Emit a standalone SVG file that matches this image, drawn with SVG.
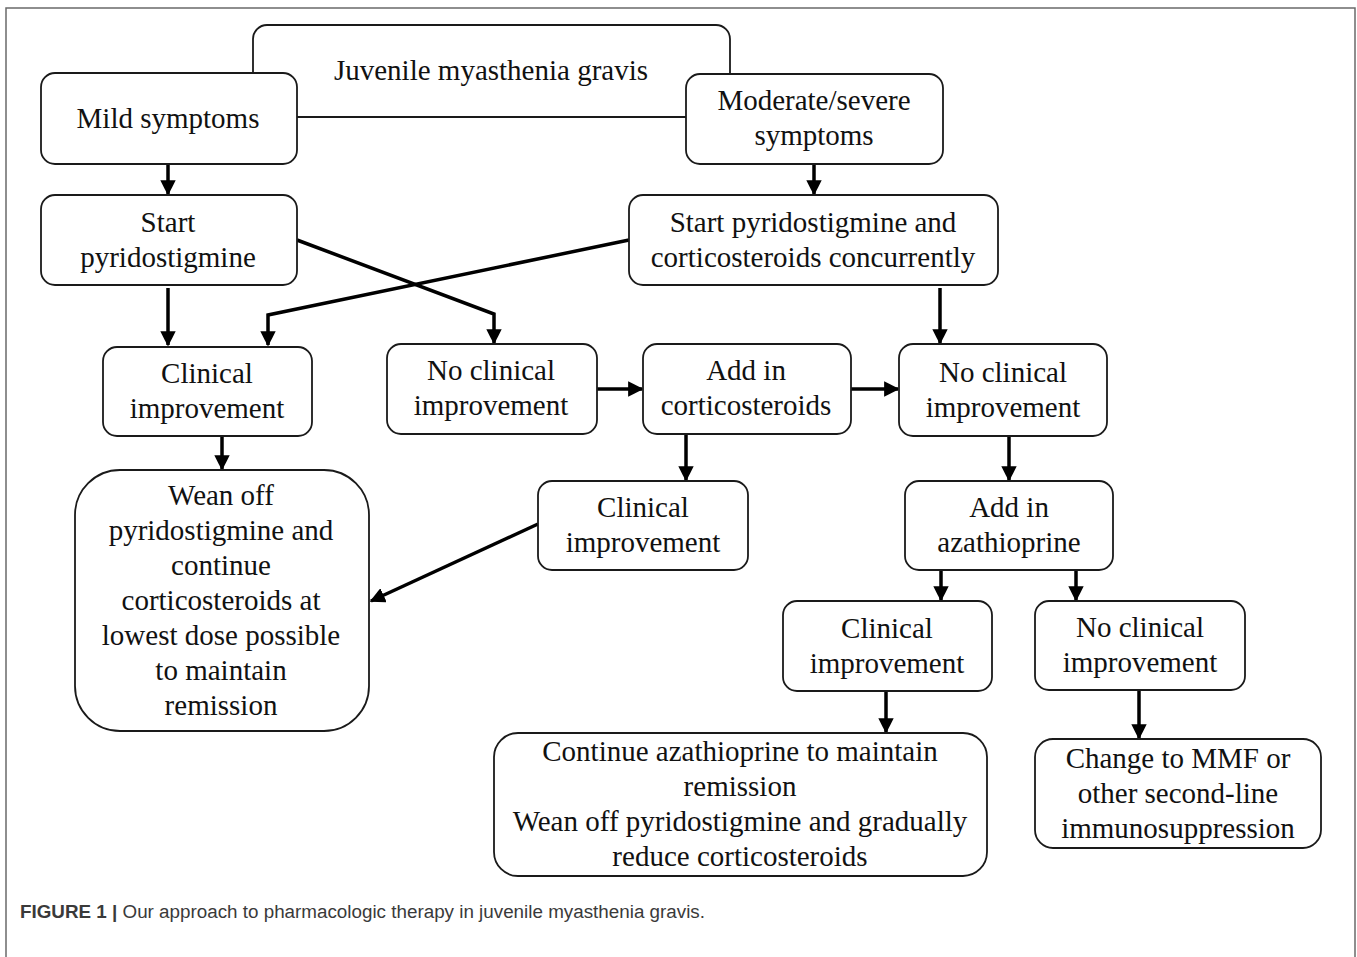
<svg xmlns="http://www.w3.org/2000/svg" width="1357" height="957" viewBox="0 0 1357 957">
<defs>
<style>
.box{fill:#fff;stroke:#1a1a1a;stroke-width:1.8}
.t{font-family:"Liberation Serif","Times New Roman",serif;font-size:29px;fill:#111;text-anchor:middle}
.c{fill:none;stroke:#000;stroke-width:3.5}
.cap{font-family:"Liberation Sans",Arial,sans-serif;font-size:18px;fill:#3a3a3a}
</style>
<marker id="ah" viewBox="0 0 10 10" refX="9" refY="5" markerWidth="4.4" markerHeight="4.4" markerUnits="strokeWidth" orient="auto">
<path d="M0,0 L10,5 L0,10 Z" fill="#000"/>
</marker>
</defs>
<rect x="0" y="0" width="1357" height="957" fill="#fff"/>
<path d="M6,960 L6,8 L1355,8 L1355,960" fill="none" stroke="#6a6a6a" stroke-width="1.5"/>

<g id="n-root"><rect class="box" x="253" y="25" width="477" height="92" rx="14"/><text class="t" x="491" y="80">Juvenile myasthenia gravis</text></g>

<g id="connectors">
<line class="c" x1="168" y1="164" x2="168" y2="194" marker-end="url(#ah)"/>
<line class="c" x1="814" y1="164" x2="814" y2="194" marker-end="url(#ah)"/>
<line class="c" x1="168" y1="288" x2="168" y2="345" marker-end="url(#ah)"/>
<polyline class="c" points="297,240 494,314 494,343" marker-end="url(#ah)"/>
<polyline class="c" points="629,240 268,315 268,345" marker-end="url(#ah)"/>
<line class="c" x1="940" y1="288" x2="940" y2="343" marker-end="url(#ah)"/>
<line class="c" x1="222" y1="437" x2="222" y2="469" marker-end="url(#ah)"/>
<line class="c" x1="597" y1="389" x2="642" y2="389" marker-end="url(#ah)"/>
<line class="c" x1="851" y1="389" x2="898" y2="389" marker-end="url(#ah)"/>
<line class="c" x1="686" y1="434" x2="686" y2="480" marker-end="url(#ah)"/>
<line class="c" x1="1009" y1="436" x2="1009" y2="480" marker-end="url(#ah)"/>
<line class="c" x1="538" y1="524" x2="371" y2="601" marker-end="url(#ah)"/>
<line class="c" x1="941" y1="570" x2="941" y2="600" marker-end="url(#ah)"/>
<line class="c" x1="1076" y1="570" x2="1076" y2="600" marker-end="url(#ah)"/>
<line class="c" x1="886" y1="691" x2="886" y2="732" marker-end="url(#ah)"/>
<line class="c" x1="1139" y1="690" x2="1139" y2="738" marker-end="url(#ah)"/>
</g>

<g id="n-mild"><rect class="box" x="41" y="73" width="256" height="91" rx="14"/><text class="t" x="168" y="128">Mild symptoms</text></g>
<g id="n-moderate"><rect class="box" x="686" y="74" width="257" height="90" rx="14"/><text class="t" x="814" y="110">Moderate/severe</text><text class="t" x="814" y="145">symptoms</text></g>
<g id="n-startpyr"><rect class="box" x="41" y="195" width="256" height="90" rx="14"/><text class="t" x="168" y="232">Start</text><text class="t" x="168" y="267">pyridostigmine</text></g>
<g id="n-startboth"><rect class="box" x="629" y="195" width="369" height="90" rx="14"/><text class="t" x="813" y="232">Start pyridostigmine and</text><text class="t" x="813" y="267">corticosteroids concurrently</text></g>
<g id="n-clin1"><rect class="box" x="103" y="347" width="209" height="89" rx="14"/><text class="t" x="207" y="383">Clinical</text><text class="t" x="207" y="418">improvement</text></g>
<g id="n-noclin1"><rect class="box" x="387" y="344" width="210" height="90" rx="14"/><text class="t" x="491" y="380">No clinical</text><text class="t" x="491" y="415">improvement</text></g>
<g id="n-addcort"><rect class="box" x="643" y="344" width="208" height="90" rx="14"/><text class="t" x="746" y="380">Add in</text><text class="t" x="746" y="415">corticosteroids</text></g>
<g id="n-noclin2"><rect class="box" x="899" y="344" width="208" height="92" rx="14"/><text class="t" x="1003" y="382">No clinical</text><text class="t" x="1003" y="417">improvement</text></g>
<g id="n-wean"><rect class="box" x="75" y="470" width="294" height="261" rx="45"/>
<text class="t" x="221" y="505">Wean off</text>
<text class="t" x="221" y="540">pyridostigmine and</text>
<text class="t" x="221" y="575">continue</text>
<text class="t" x="221" y="610">corticosteroids at</text>
<text class="t" x="221" y="645">lowest dose possible</text>
<text class="t" x="221" y="680">to maintain</text>
<text class="t" x="221" y="715">remission</text></g>
<g id="n-clin2"><rect class="box" x="538" y="481" width="210" height="89" rx="14"/><text class="t" x="643" y="517">Clinical</text><text class="t" x="643" y="552">improvement</text></g>
<g id="n-addaza"><rect class="box" x="905" y="481" width="208" height="89" rx="14"/><text class="t" x="1009" y="517">Add in</text><text class="t" x="1009" y="552">azathioprine</text></g>
<g id="n-clin3"><rect class="box" x="783" y="601" width="209" height="90" rx="14"/><text class="t" x="887" y="638">Clinical</text><text class="t" x="887" y="673">improvement</text></g>
<g id="n-noclin3"><rect class="box" x="1035" y="601" width="210" height="89" rx="14"/><text class="t" x="1140" y="637">No clinical</text><text class="t" x="1140" y="672">improvement</text></g>
<g id="n-continue"><rect class="box" x="494" y="733" width="493" height="143" rx="24"/>
<text class="t" x="740" y="761">Continue azathioprine to maintain</text>
<text class="t" x="740" y="796">remission</text>
<text class="t" x="740" y="831">Wean off pyridostigmine and gradually</text>
<text class="t" x="740" y="866">reduce corticosteroids</text></g>
<g id="n-change"><rect class="box" x="1035" y="739" width="286" height="109" rx="18"/>
<text class="t" x="1178" y="768">Change to MMF or</text>
<text class="t" x="1178" y="803">other second-line</text>
<text class="t" x="1178" y="838">immunosuppression</text></g>

<text class="cap" x="20" y="918" textLength="685" lengthAdjust="spacingAndGlyphs"><tspan font-weight="bold">FIGURE 1 |</tspan> Our approach to pharmacologic therapy in juvenile myasthenia gravis.</text>
</svg>
